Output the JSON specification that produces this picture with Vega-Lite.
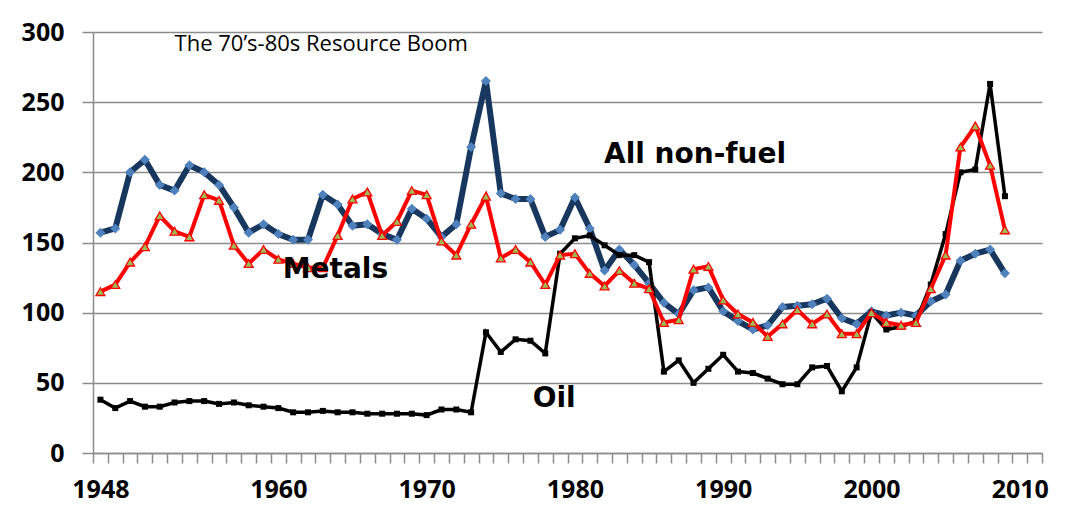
{
  "$schema": "https://vega.github.io/schema/vega-lite/v6.json",
  "width": 949,
  "height": 421,
  "autosize": {"type": "none"},
  "padding": {"left": 93, "top": 32, "right": 27, "bottom": 56},
  "background": "white",
  "config": {"view": {"stroke": null}},
  "resolve": {"axis": {"x": "independent"}},
  "datasets": {
    "series": [
      {"year":1948,"series":"All non-fuel","value":157},{"year":1949,"series":"All non-fuel","value":160},{"year":1950,"series":"All non-fuel","value":200},{"year":1951,"series":"All non-fuel","value":209},{"year":1952,"series":"All non-fuel","value":191},{"year":1953,"series":"All non-fuel","value":187},{"year":1954,"series":"All non-fuel","value":205},{"year":1955,"series":"All non-fuel","value":200},{"year":1956,"series":"All non-fuel","value":191},{"year":1957,"series":"All non-fuel","value":175},{"year":1958,"series":"All non-fuel","value":157},{"year":1959,"series":"All non-fuel","value":163},{"year":1960,"series":"All non-fuel","value":156},{"year":1961,"series":"All non-fuel","value":152},{"year":1962,"series":"All non-fuel","value":152},{"year":1963,"series":"All non-fuel","value":184},{"year":1964,"series":"All non-fuel","value":177},{"year":1965,"series":"All non-fuel","value":162},{"year":1966,"series":"All non-fuel","value":163},{"year":1967,"series":"All non-fuel","value":156},{"year":1968,"series":"All non-fuel","value":152},{"year":1969,"series":"All non-fuel","value":174},{"year":1970,"series":"All non-fuel","value":167},{"year":1971,"series":"All non-fuel","value":154},{"year":1972,"series":"All non-fuel","value":163},{"year":1973,"series":"All non-fuel","value":218},{"year":1974,"series":"All non-fuel","value":265},{"year":1975,"series":"All non-fuel","value":185},{"year":1976,"series":"All non-fuel","value":181},{"year":1977,"series":"All non-fuel","value":181},{"year":1978,"series":"All non-fuel","value":154},{"year":1979,"series":"All non-fuel","value":159},{"year":1980,"series":"All non-fuel","value":182},{"year":1981,"series":"All non-fuel","value":160},{"year":1982,"series":"All non-fuel","value":130},{"year":1983,"series":"All non-fuel","value":145},{"year":1984,"series":"All non-fuel","value":134},{"year":1985,"series":"All non-fuel","value":121},{"year":1986,"series":"All non-fuel","value":107},{"year":1987,"series":"All non-fuel","value":99},{"year":1988,"series":"All non-fuel","value":116},{"year":1989,"series":"All non-fuel","value":118},{"year":1990,"series":"All non-fuel","value":101},{"year":1991,"series":"All non-fuel","value":94},{"year":1992,"series":"All non-fuel","value":88},{"year":1993,"series":"All non-fuel","value":91},{"year":1994,"series":"All non-fuel","value":104},{"year":1995,"series":"All non-fuel","value":105},{"year":1996,"series":"All non-fuel","value":106},{"year":1997,"series":"All non-fuel","value":110},{"year":1998,"series":"All non-fuel","value":96},{"year":1999,"series":"All non-fuel","value":92},{"year":2000,"series":"All non-fuel","value":101},{"year":2001,"series":"All non-fuel","value":98},{"year":2002,"series":"All non-fuel","value":100},{"year":2003,"series":"All non-fuel","value":98},{"year":2004,"series":"All non-fuel","value":108},{"year":2005,"series":"All non-fuel","value":113},{"year":2006,"series":"All non-fuel","value":137},{"year":2007,"series":"All non-fuel","value":142},{"year":2008,"series":"All non-fuel","value":145},{"year":2009,"series":"All non-fuel","value":128},
      {"year":1948,"series":"Metals","value":115},{"year":1949,"series":"Metals","value":120},{"year":1950,"series":"Metals","value":136},{"year":1951,"series":"Metals","value":147},{"year":1952,"series":"Metals","value":169},{"year":1953,"series":"Metals","value":158},{"year":1954,"series":"Metals","value":154},{"year":1955,"series":"Metals","value":184},{"year":1956,"series":"Metals","value":180},{"year":1957,"series":"Metals","value":148},{"year":1958,"series":"Metals","value":135},{"year":1959,"series":"Metals","value":145},{"year":1960,"series":"Metals","value":138},{"year":1961,"series":"Metals","value":135},{"year":1962,"series":"Metals","value":132},{"year":1963,"series":"Metals","value":132},{"year":1964,"series":"Metals","value":155},{"year":1965,"series":"Metals","value":181},{"year":1966,"series":"Metals","value":186},{"year":1967,"series":"Metals","value":155},{"year":1968,"series":"Metals","value":165},{"year":1969,"series":"Metals","value":187},{"year":1970,"series":"Metals","value":184},{"year":1971,"series":"Metals","value":151},{"year":1972,"series":"Metals","value":141},{"year":1973,"series":"Metals","value":163},{"year":1974,"series":"Metals","value":183},{"year":1975,"series":"Metals","value":139},{"year":1976,"series":"Metals","value":145},{"year":1977,"series":"Metals","value":136},{"year":1978,"series":"Metals","value":120},{"year":1979,"series":"Metals","value":141},{"year":1980,"series":"Metals","value":142},{"year":1981,"series":"Metals","value":128},{"year":1982,"series":"Metals","value":119},{"year":1983,"series":"Metals","value":130},{"year":1984,"series":"Metals","value":121},{"year":1985,"series":"Metals","value":117},{"year":1986,"series":"Metals","value":93},{"year":1987,"series":"Metals","value":95},{"year":1988,"series":"Metals","value":131},{"year":1989,"series":"Metals","value":133},{"year":1990,"series":"Metals","value":109},{"year":1991,"series":"Metals","value":99},{"year":1992,"series":"Metals","value":93},{"year":1993,"series":"Metals","value":83},{"year":1994,"series":"Metals","value":92},{"year":1995,"series":"Metals","value":102},{"year":1996,"series":"Metals","value":92},{"year":1997,"series":"Metals","value":99},{"year":1998,"series":"Metals","value":85},{"year":1999,"series":"Metals","value":85},{"year":2000,"series":"Metals","value":100},{"year":2001,"series":"Metals","value":93},{"year":2002,"series":"Metals","value":91},{"year":2003,"series":"Metals","value":93},{"year":2004,"series":"Metals","value":117},{"year":2005,"series":"Metals","value":141},{"year":2006,"series":"Metals","value":218},{"year":2007,"series":"Metals","value":233},{"year":2008,"series":"Metals","value":205},{"year":2009,"series":"Metals","value":159},
      {"year":1948,"series":"Oil","value":38},{"year":1949,"series":"Oil","value":32},{"year":1950,"series":"Oil","value":37},{"year":1951,"series":"Oil","value":33},{"year":1952,"series":"Oil","value":33},{"year":1953,"series":"Oil","value":36},{"year":1954,"series":"Oil","value":37},{"year":1955,"series":"Oil","value":37},{"year":1956,"series":"Oil","value":35},{"year":1957,"series":"Oil","value":36},{"year":1958,"series":"Oil","value":34},{"year":1959,"series":"Oil","value":33},{"year":1960,"series":"Oil","value":32},{"year":1961,"series":"Oil","value":29},{"year":1962,"series":"Oil","value":29},{"year":1963,"series":"Oil","value":30},{"year":1964,"series":"Oil","value":29},{"year":1965,"series":"Oil","value":29},{"year":1966,"series":"Oil","value":28},{"year":1967,"series":"Oil","value":28},{"year":1968,"series":"Oil","value":28},{"year":1969,"series":"Oil","value":28},{"year":1970,"series":"Oil","value":27},{"year":1971,"series":"Oil","value":31},{"year":1972,"series":"Oil","value":31},{"year":1973,"series":"Oil","value":29},{"year":1974,"series":"Oil","value":86},{"year":1975,"series":"Oil","value":72},{"year":1976,"series":"Oil","value":81},{"year":1977,"series":"Oil","value":80},{"year":1978,"series":"Oil","value":71},{"year":1979,"series":"Oil","value":142},{"year":1980,"series":"Oil","value":153},{"year":1981,"series":"Oil","value":155},{"year":1982,"series":"Oil","value":148},{"year":1983,"series":"Oil","value":141},{"year":1984,"series":"Oil","value":141},{"year":1985,"series":"Oil","value":136},{"year":1986,"series":"Oil","value":58},{"year":1987,"series":"Oil","value":66},{"year":1988,"series":"Oil","value":50},{"year":1989,"series":"Oil","value":60},{"year":1990,"series":"Oil","value":70},{"year":1991,"series":"Oil","value":58},{"year":1992,"series":"Oil","value":57},{"year":1993,"series":"Oil","value":53},{"year":1994,"series":"Oil","value":49},{"year":1995,"series":"Oil","value":49},{"year":1996,"series":"Oil","value":61},{"year":1997,"series":"Oil","value":62},{"year":1998,"series":"Oil","value":44},{"year":1999,"series":"Oil","value":61},{"year":2000,"series":"Oil","value":100},{"year":2001,"series":"Oil","value":88},{"year":2002,"series":"Oil","value":90},{"year":2003,"series":"Oil","value":94},{"year":2004,"series":"Oil","value":120},{"year":2005,"series":"Oil","value":156},{"year":2006,"series":"Oil","value":200},{"year":2007,"series":"Oil","value":202},{"year":2008,"series":"Oil","value":263},{"year":2009,"series":"Oil","value":183}
    ],
    "notes": [
      {"year": 1988.1, "value": 206.7, "label": "All non-fuel", "kind": "series"},
      {"year": 1963.85, "value": 124.7, "label": "Metals", "kind": "series"},
      {"year": 1978.6, "value": 32.8, "label": "Oil", "kind": "series"},
      {"year": 1953.0, "value": 286.5, "label": "The 70’s-80s Resource Boom", "kind": "title"}
    ]
  },
  "layer": [
    {
      "data": {"name": "series"},
      "transform": [{"filter": "datum.series === 'All non-fuel'"}],
      "mark": {"type": "line", "color": "#17375E", "strokeWidth": 6, "strokeJoin": "round"},
      "encoding": {
        "x": {
          "field": "year", "type": "quantitative",
          "scale": {"domain": [1947.5, 2011.5], "nice": false, "zero": false},
          "axis": {
            "orient": "bottom",
            "title": null,
            "grid": false,
            "values": [1947.5,1948.5,1949.5,1950.5,1951.5,1952.5,1953.5,1954.5,1955.5,1956.5,1957.5,1958.5,1959.5,1960.5,1961.5,1962.5,1963.5,1964.5,1965.5,1966.5,1967.5,1968.5,1969.5,1970.5,1971.5,1972.5,1973.5,1974.5,1975.5,1976.5,1977.5,1978.5,1979.5,1980.5,1981.5,1982.5,1983.5,1984.5,1985.5,1986.5,1987.5,1988.5,1989.5,1990.5,1991.5,1992.5,1993.5,1994.5,1995.5,1996.5,1997.5,1998.5,1999.5,2000.5,2001.5,2002.5,2003.5,2004.5,2005.5,2006.5,2007.5,2008.5,2009.5,2010.5,2011.5],
            "labels": false,
            "tickColor": "#8C8C8C",
            "tickWidth": 1.5,
            "tickSize": 10,
            "domainColor": "#8C8C8C",
            "domainWidth": 1.5
          }
        },
        "y": {
          "field": "value", "type": "quantitative",
          "scale": {"domain": [0, 300], "nice": false},
          "axis": {
            "title": null,
            "values": [0, 50, 100, 150, 200, 250, 300],
            "grid": true,
            "gridColor": "#8C8C8C",
            "gridWidth": 1.5,
            "tickColor": "#8C8C8C",
            "tickWidth": 1.5,
            "tickSize": 11,
            "domainColor": "#8C8C8C",
            "domainWidth": 1.5,
            "labelFont": "Open Sans",
            "labelFontWeight": "bold",
            "labelFontSize": 25,
            "labelColor": "#000000",
            "labelPadding": 18
          }
        }
      }
    },
    {
      "data": {"name": "series"},
      "transform": [{"filter": "datum.series === 'All non-fuel'"}],
      "mark": {"type": "point", "shape": "diamond", "filled": true, "color": "#4F81BD", "size": 100, "opacity": 1},
      "encoding": {
        "x": {
          "field": "year", "type": "quantitative",
          "axis": {
            "orient": "bottom",
            "title": null,
            "grid": false,
            "domain": false,
            "ticks": false,
            "values": [1948, 1960, 1970, 1980, 1990, 2000, 2010],
            "format": "d",
            "labelOverlap": false,
            "labelFlush": false,
            "labelBound": false,
            "labelFont": "Open Sans",
            "labelFontWeight": "bold",
            "labelFontSize": 25,
            "labelColor": "#000000",
            "labelPadding": 24
          }
        },
        "y": {"field": "value", "type": "quantitative"}
      }
    },
    {
      "data": {"name": "series"},
      "transform": [{"filter": "datum.series === 'Oil'"}],
      "mark": {"type": "line", "color": "#000000", "strokeWidth": 3.5},
      "encoding": {
        "x": {"field": "year", "type": "quantitative", "axis": null},
        "y": {"field": "value", "type": "quantitative"}
      }
    },
    {
      "data": {"name": "series"},
      "transform": [{"filter": "datum.series === 'Oil'"}],
      "mark": {"type": "point", "shape": "square", "filled": true, "color": "#000000", "size": 36, "opacity": 1},
      "encoding": {
        "x": {"field": "year", "type": "quantitative", "axis": null},
        "y": {"field": "value", "type": "quantitative"}
      }
    },
    {
      "data": {"name": "series"},
      "transform": [{"filter": "datum.series === 'Metals'"}],
      "mark": {"type": "line", "color": "#FF0000", "strokeWidth": 4},
      "encoding": {
        "x": {"field": "year", "type": "quantitative", "axis": null},
        "y": {"field": "value", "type": "quantitative"}
      }
    },
    {
      "data": {"name": "series"},
      "transform": [{"filter": "datum.series === 'Metals'"}],
      "mark": {"type": "point", "shape": "triangle-up", "filled": true, "fill": "#9BBB59", "stroke": "#FF0000", "strokeWidth": 1.3, "size": 80, "opacity": 1},
      "encoding": {
        "x": {"field": "year", "type": "quantitative", "axis": null},
        "y": {"field": "value", "type": "quantitative"}
      }
    },
    {
      "data": {"name": "notes"},
      "transform": [{"filter": "datum.kind === 'series'"}],
      "mark": {"type": "text", "font": "DejaVu Sans", "fontWeight": "bold", "fontSize": 28, "color": "#000000", "align": "center", "baseline": "alphabetic"},
      "encoding": {
        "x": {"field": "year", "type": "quantitative", "axis": null},
        "y": {"field": "value", "type": "quantitative"},
        "text": {"field": "label"}
      }
    },
    {
      "data": {"name": "notes"},
      "transform": [{"filter": "datum.kind === 'title'"}],
      "mark": {"type": "text", "font": "Open Sans", "fontSize": 22, "color": "#000000", "align": "left", "baseline": "alphabetic"},
      "encoding": {
        "x": {"field": "year", "type": "quantitative", "axis": null},
        "y": {"field": "value", "type": "quantitative"},
        "text": {"field": "label"}
      }
    }
  ]
}
